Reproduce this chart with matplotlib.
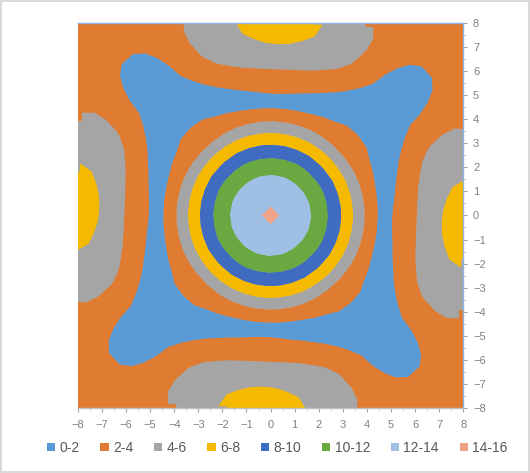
import numpy as np
import matplotlib.pyplot as plt
from matplotlib.patches import Patch

# one quarter of the surface on a 0.5 grid
# rows: |y| = 0, 0.5 ... 8   columns: |x| = 0, 0.5 ... 8
# (the chart is mirror-symmetric about both axes)
quarter_step = [0.0, 0.5, 1.0, 1.5, 2.0, 2.5, 3.0, 3.5, 4.0,
                4.5, 5.0, 5.5, 6.0, 6.5, 7.0, 7.5, 8.0]
quarter_z = [
    [14.5, 13.8, 13.3, 12.45, 11.2, 9.6, 7.75, 5.7, 3.6, 1.8, 1.9, 2.9, 3.9, 4.6, 5.85, 6.5, 6.9],
    [13.8, 13.6, 13.1, 12.25, 11.0, 9.45, 7.6, 5.5, 3.5, 1.75, 1.85, 2.9, 3.9, 4.6, 5.8, 6.45, 6.85],
    [13.3, 13.1, 12.6, 11.7, 10.55, 8.95, 7.1, 5.1, 3.1, 1.6, 1.75, 2.85, 3.9, 4.55, 5.6, 6.3, 6.65],
    [12.45, 12.25, 11.7, 10.85, 9.6, 8.1, 6.3, 4.4, 2.6, 1.5, 1.7, 2.8, 3.9, 4.5, 5.4, 6.0, 6.35],
    [11.2, 11.0, 10.55, 9.6, 8.4, 6.95, 5.2, 3.5, 2.3, 1.4, 1.6, 2.7, 3.85, 4.4, 5.1, 5.6, 5.8],
    [9.6, 9.45, 8.95, 8.1, 6.95, 5.5, 3.95, 2.7, 2.0, 1.3, 1.5, 2.6, 3.8, 4.3, 4.8, 5.2, 5.45],
    [7.75, 7.6, 7.1, 6.3, 5.2, 3.95, 3.3, 2.5, 1.8, 1.2, 1.3, 2.4, 3.6, 4.1, 4.5, 4.75, 4.95],
    [5.7, 5.5, 5.1, 4.4, 3.5, 2.7, 2.5, 1.95, 1.3, 0.9, 1.1, 2.1, 3.2, 3.8, 4.1, 4.35, 4.5],
    [3.6, 3.5, 3.1, 2.6, 2.3, 2.0, 1.8, 1.3, 1.0, 0.8, 0.9, 1.7, 2.8, 3.5, 3.8, 3.95, 3.9],
    [1.8, 1.75, 1.6, 1.5, 1.4, 1.3, 1.2, 0.9, 0.8, 0.9, 0.8, 1.2, 1.9, 3.0, 3.5, 3.7, 3.8],
    [1.9, 1.85, 1.75, 1.7, 1.6, 1.5, 1.3, 1.1, 0.9, 0.8, 0.8, 1.0, 1.6, 2.2, 3.0, 3.4, 3.6],
    [2.9, 2.9, 2.85, 2.8, 2.7, 2.6, 2.4, 2.1, 1.7, 1.2, 1.0, 1.0, 1.4, 2.0, 2.8, 3.2, 3.45],
    [3.9, 3.9, 3.9, 3.9, 3.85, 3.8, 3.6, 3.2, 2.8, 1.9, 1.6, 1.4, 1.5, 2.05, 2.7, 3.1, 3.35],
    [4.6, 4.6, 4.55, 4.5, 4.4, 4.3, 4.1, 3.8, 3.5, 3.0, 2.2, 2.0, 2.05, 2.2, 2.8, 3.1, 3.3],
    [5.85, 5.8, 5.6, 5.4, 5.1, 4.8, 4.5, 4.1, 3.8, 3.5, 3.0, 2.8, 2.7, 2.8, 3.0, 3.2, 3.35],
    [6.5, 6.45, 6.3, 6.0, 5.6, 5.2, 4.75, 4.35, 3.95, 3.7, 3.4, 3.2, 3.1, 3.1, 3.2, 3.3, 3.4],
    [6.9, 6.85, 6.65, 6.35, 5.8, 5.45, 4.95, 4.5, 3.9, 3.8, 3.6, 3.45, 3.35, 3.3, 3.35, 3.4, 3.5],
]

levels = [0, 2, 4, 6, 8, 10, 12, 14, 16]
band_labels = ["0-2", "2-4", "4-6", "6-8", "8-10", "10-12", "12-14", "14-16"]
band_colors = ["#5B9BD5", "#E07B32", "#A5A5A5", "#F5BA00",
               "#3F6CC0", "#6AA842", "#9FBFE4", "#F0A386"]

# the Excel top view is turned a little clockwise
view_twist_deg = -2.5

plt.rcParams["font.family"] = ["Liberation Sans", "DejaVu Sans"]

# unfold the quarter into the full -8..8 square
q = np.array(quarter_z)
half = np.hstack([q[:, :0:-1], q])
Z = np.vstack([half[:0:-1], half])
s = np.array(quarter_step)
axis_vals = np.concatenate([-s[:0:-1], s])
X, Y = np.meshgrid(axis_vals, axis_vals)

t = np.deg2rad(view_twist_deg)
Xr = X * np.cos(t) - Y * np.sin(t)
Yr = X * np.sin(t) + Y * np.cos(t)

fig = plt.figure(figsize=(5.30, 4.73), dpi=100)
fig.patch.set_edgecolor("#D9D9D9")
fig.patch.set_linewidth(1.5)

ax = fig.add_axes([0.147, 0.137, 0.727, 0.815])
# straight copy underneath fills the thin edge slivers left by the twist
ax.contourf(X, Y, Z, levels=levels, colors=band_colors, antialiased=True)
ax.contourf(Xr, Yr, Z, levels=levels, colors=band_colors, antialiased=True)

ax.set_xlim(-8, 8)
ax.set_ylim(-8, 8)
ax.yaxis.tick_right()
ax.set_xticks(range(-8, 9))
ax.set_yticks(range(-8, 9))
ax.set_xticks(np.arange(-8, 8.01, 0.5), minor=True)
ax.set_yticks(np.arange(-8, 8.01, 0.5), minor=True)
ax.tick_params(axis="both", which="major", labelsize=8, colors="#8C8C8C",
               length=3, width=0.6)
ax.tick_params(axis="x", which="major", pad=5.5)
ax.tick_params(axis="y", which="major", pad=4)
ax.tick_params(axis="both", which="minor", colors="#BFBFBF", length=2, width=0.5)
ax.tick_params(axis="both", labelcolor="#808080")

ax.spines["left"].set_visible(False)
ax.spines["top"].set_color("#8DB4E2")
ax.spines["right"].set_color("#8DB4E2")
ax.spines["bottom"].set_color("#BFBFBF")
for sp in ax.spines.values():
    sp.set_linewidth(1.0)

handles = [Patch(facecolor=c, edgecolor="none", label=l)
           for c, l in zip(band_colors, band_labels)]
fig.legend(handles=handles, loc="center", bbox_to_anchor=(0.523, 0.053), ncol=8,
           frameon=False, fontsize=10, handlelength=0.6, handleheight=0.6,
           handletextpad=0.3, columnspacing=1.5, labelcolor="#595959")

fig.savefig("out.png", dpi=100)
